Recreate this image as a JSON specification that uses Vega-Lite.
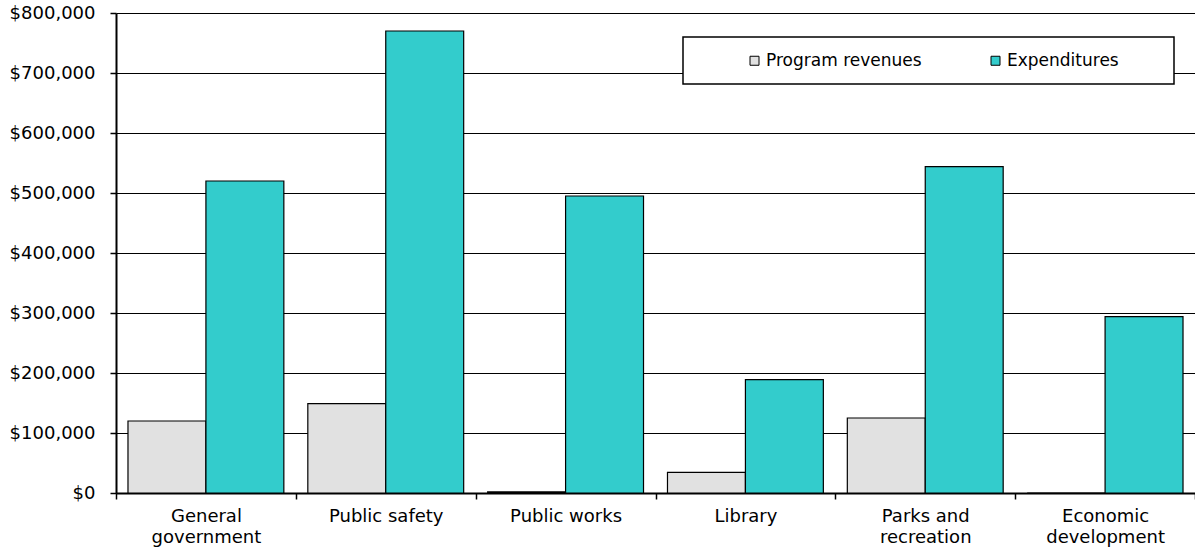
{
  "$schema": "https://vega.github.io/schema/vega-lite/v6.json",
  "autosize": {"type": "none"},
  "padding": {"left": 116, "top": 13, "right": 0, "bottom": 65},
  "width": 1079,
  "height": 480,
  "background": "white",
  "config": {
    "view": {"stroke": null},
    "font": "DejaVu Sans",
    "legend": {"strokeWidth": 1.5}
  },
  "data": {
    "values": [
      {"category": "General government", "series": "Program revenues", "amount": 120000},
      {"category": "General government", "series": "Expenditures", "amount": 520000},
      {"category": "Public safety", "series": "Program revenues", "amount": 149000},
      {"category": "Public safety", "series": "Expenditures", "amount": 770000},
      {"category": "Public works", "series": "Program revenues", "amount": 2000},
      {"category": "Public works", "series": "Expenditures", "amount": 495000},
      {"category": "Library", "series": "Program revenues", "amount": 34500},
      {"category": "Library", "series": "Expenditures", "amount": 189000},
      {"category": "Parks and recreation", "series": "Program revenues", "amount": 125000},
      {"category": "Parks and recreation", "series": "Expenditures", "amount": 544000},
      {"category": "Economic development", "series": "Program revenues", "amount": 0},
      {"category": "Economic development", "series": "Expenditures", "amount": 294000}
    ]
  },
  "mark": {"type": "bar", "stroke": "#000000", "strokeWidth": 1.2, "cornerRadius": 0},
  "encoding": {
    "x": {
      "field": "category",
      "type": "nominal",
      "sort": null,
      "scale": {"paddingInner": 0, "paddingOuter": 0},
      "axis": {
        "title": null,
        "labelAngle": 0,
        "tickBand": "extent",
        "tickSize": 6,
        "tickColor": "#000000",
        "tickWidth": 1.5,
        "domainColor": "#000000",
        "domainWidth": 2,
        "labelFont": "DejaVu Sans",
        "labelFontSize": 18,
        "labelColor": "#000000",
        "labelPadding": 8,
        "labelLineHeight": 21,
        "labelExpr": "datum.value == 'General government' ? ['General', 'government'] : datum.value == 'Parks and recreation' ? ['Parks and', 'recreation'] : datum.value == 'Economic development' ? ['Economic', 'development'] : datum.value"
      }
    },
    "xOffset": {
      "field": "series",
      "type": "nominal",
      "sort": ["Program revenues", "Expenditures"],
      "scale": {"paddingInner": 0, "paddingOuter": 0.1538}
    },
    "y": {
      "field": "amount",
      "type": "quantitative",
      "scale": {"domain": [0, 800000], "nice": false},
      "axis": {
        "title": null,
        "values": [0, 100000, 200000, 300000, 400000, 500000, 600000, 700000, 800000],
        "format": "$,.0f",
        "grid": true,
        "gridColor": "#000000",
        "gridWidth": 1.2,
        "tickSize": 6,
        "tickColor": "#000000",
        "tickWidth": 1.5,
        "domainColor": "#000000",
        "domainWidth": 2,
        "labelFont": "DejaVu Sans",
        "labelFontSize": 18,
        "labelColor": "#000000",
        "labelPadding": 15
      }
    },
    "color": {
      "field": "series",
      "type": "nominal",
      "sort": ["Program revenues", "Expenditures"],
      "scale": {"domain": ["Program revenues", "Expenditures"], "range": ["#E1E1E1", "#33CCCC"]},
      "legend": {
        "title": " ",
        "titleOrient": "right",
        "titleFontSize": 2,
        "titlePadding": 40,
        "orient": "none",
        "direction": "horizontal",
        "columns": 2,
        "gridAlign": "all",
        "legendX": 567,
        "legendY": 24,
        "padding": 15,
        "fillColor": "#FFFFFF",
        "strokeColor": "#000000",
        "symbolType": "square",
        "symbolSize": 81,
        "symbolStrokeColor": "#000000",
        "symbolStrokeWidth": 1,
        "symbolOffset": 48,
        "labelFont": "DejaVu Sans",
        "labelFontSize": 17,
        "labelColor": "#000000",
        "labelOffset": 3,
        "columnPadding": 17,
        "labelLimit": 300
      }
    }
  }
}
